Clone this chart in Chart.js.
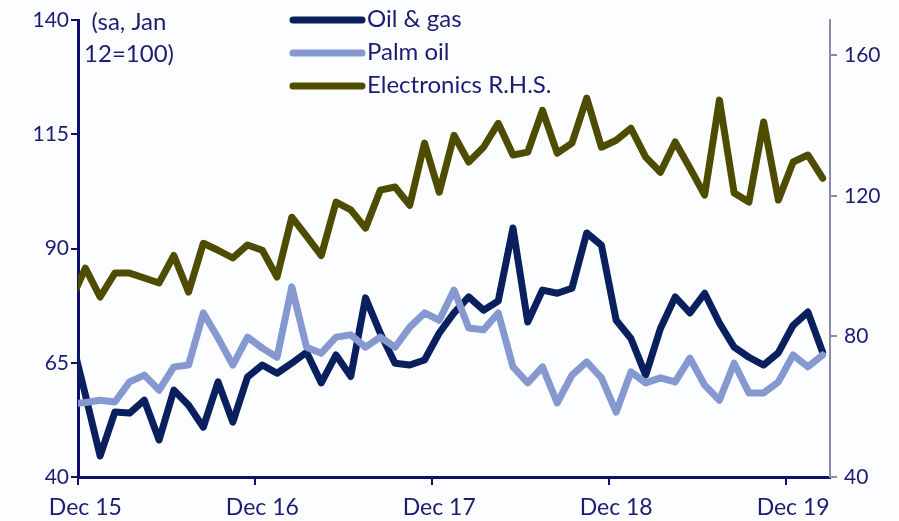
<!DOCTYPE html>
<html>
<head>
<meta charset="utf-8">
<script src="https://cdn.jsdelivr.net/npm/chart.js@4.4.1/dist/chart.umd.min.js"></script>
<style>
  html, body { margin: 0; padding: 0; background: #fcfdff; }
  #wrap { width: 899px; height: 521px; position: relative; }
</style>
</head>
<body>
<div id="wrap"><canvas id="chart" width="899" height="521"></canvas></div>
<script>
// Months (Nov 15 sits just left of the axis and is clipped, as in the original)
const months = [
    'Nov 15', 'Dec 15',
    'Jan 16', 'Feb 16', 'Mar 16', 'Apr 16', 'May 16', 'Jun 16', 'Jul 16', 'Aug 16', 'Sep 16', 'Oct 16', 'Nov 16', 'Dec 16',
    'Jan 17', 'Feb 17', 'Mar 17', 'Apr 17', 'May 17', 'Jun 17', 'Jul 17', 'Aug 17', 'Sep 17', 'Oct 17', 'Nov 17', 'Dec 17',
    'Jan 18', 'Feb 18', 'Mar 18', 'Apr 18', 'May 18', 'Jun 18', 'Jul 18', 'Aug 18', 'Sep 18', 'Oct 18', 'Nov 18', 'Dec 18',
    'Jan 19', 'Feb 19', 'Mar 19', 'Apr 19', 'May 19', 'Jun 19', 'Jul 19', 'Aug 19', 'Sep 19', 'Oct 19', 'Nov 19', 'Dec 19',
    'Jan 20', 'Feb 20'
];

// Left axis series (sa, Jan 12 = 100)
const oilGas = [
    71, 58, 44.6, 54.2, 54, 56.8, 48.1, 59, 55.7, 50.9, 60.8, 52, 61.9,
    64.5, 62.7, 64.9, 67.3, 60.6, 66.7, 62, 79.2, 71.5, 64.9, 64.5, 65.6,
    71.5, 75.9, 79.4, 76.5, 78.5, 94.5, 73.9, 80.9, 80.2, 81.3, 93.4, 90.7,
    74.3, 70.3, 62.3, 72.5, 79.4, 75.9, 80.2, 73.7, 68.4, 66.2, 64.5, 67.2,
    73.2, 76.1, 67.3
];
const palmOil = [
    56, 56.3, 56.8, 56.4, 60.8, 62.3, 59, 64.1, 64.5, 75.9, 70.4, 64.5, 70.6,
    68.2, 66.2, 81.6, 68.4, 67.1, 70.6, 71.1, 68.4, 70.6, 68.4, 72.8, 75.9,
    74.3, 80.9, 72.6, 72.2, 75.9, 64.1, 60.6, 64.1, 56.2, 62.3, 65.2, 61.7,
    54.2, 63, 60.6, 61.7, 60.8, 66, 60.1, 56.8, 64.9, 58.4, 58.4, 60.8,
    66.7, 64.1, 66.7
];

// Right axis series
const electronics = [
    90, 99.4, 91.2, 98, 98, 96.6, 95.2, 103, 92.6, 106.5, 104.5, 102.3, 106,
    104.5, 96.9, 113.9, 108.5, 103, 118.2, 116, 110.8, 121.6, 122.5, 117.3, 135,
    121, 137.2, 129.6, 133.8, 140.6, 131.6, 132.4, 144.3, 132.1, 135, 147.8, 133.8,
    135.8, 139.2, 131, 126.7, 135.3, 127.9, 120.2, 147.2, 120.8, 118.2, 141, 118.8,
    129.6, 131.6, 125
];

const leftTicks = [40, 65, 90, 115, 140];
const rightTicks = [40, 80, 120, 160];
const noteLines = ['(sa, Jan', '12=100)'];

const NAVY_TEXT = '#1c1c72';
const AXIS_NAVY = '#0e0e6e';
const AXIS_GREY = '#8c8ca6';
const TICK_FONT = { family: 'Lato', size: 21 };
const X_FONT = { family: 'Lato', size: 23 };

// Legend and note drawn in the plot area, like the original
const overlayPlugin = {
    id: 'overlay',
    afterDraw(chart) {
        const ctx = chart.ctx;
        ctx.save();
        ctx.font = '24px Lato';
        ctx.fillStyle = NAVY_TEXT;
        ctx.textBaseline = 'middle';
        ctx.textAlign = 'center';
        noteLines.forEach((line, i) => ctx.fillText(line, 129, 22 + i * 32));

        ctx.textAlign = 'left';
        chart.data.datasets.forEach((ds, i) => {
            const y = 20 + i * 33;
            ctx.strokeStyle = ds.borderColor;
            ctx.lineWidth = 7;
            ctx.lineCap = 'round';
            ctx.beginPath();
            ctx.moveTo(293, y);
            ctx.lineTo(362, y);
            ctx.stroke();
            ctx.fillText(ds.label, 367, y - 1);
        });
        ctx.restore();
    }
};

const ctx = document.getElementById('chart').getContext('2d');
new Chart(ctx, {
    type: 'line',
    data: {
        labels: months,
        datasets: [
            {
                label: 'Oil & gas',
                data: oilGas,
                borderColor: '#0a1f5e',
                yAxisID: 'y',
                order: 2
            },
            {
                label: 'Palm oil',
                data: palmOil,
                borderColor: '#8598cf',
                yAxisID: 'y',
                order: 1
            },
            {
                label: 'Electronics R.H.S.',
                data: electronics,
                borderColor: '#4d4c00',
                yAxisID: 'y1',
                order: 3
            }
        ]
    },
    options: {
        responsive: false,
        animation: false,
        layout: { padding: { top: 20, left: 0, right: 0, bottom: 0 } },
        elements: {
            line: { borderWidth: 7, tension: 0, borderJoinStyle: 'round', borderCapStyle: 'round' },
            point: { radius: 0 }
        },
        plugins: {
            legend: { display: false },
            tooltip: { enabled: false }
        },
        scales: {
            x: {
                type: 'category',
                min: 'Dec 15',
                offset: true,
                grid: {
                    offset: true,
                    drawOnChartArea: false,
                    tickLength: 8,
                    lineWidth: 2,
                    color: c => (c.tick && months[c.tick.value].startsWith('Dec')) ? AXIS_NAVY : 'rgba(0,0,0,0)'
                },
                border: { color: AXIS_NAVY, width: 3 },
                ticks: {
                    autoSkip: false,
                    maxRotation: 0,
                    padding: 9,
                    color: NAVY_TEXT,
                    font: X_FONT,
                    callback: value => months[value].startsWith('Dec') ? months[value] : ''
                },
                afterFit: s => { s.height = 44; }
            },
            y: {
                position: 'left',
                min: 40,
                max: 140,
                afterBuildTicks: s => { s.ticks = leftTicks.map(v => ({ value: v })); },
                grid: { drawOnChartArea: false, tickLength: 7, lineWidth: 2, color: AXIS_NAVY },
                border: { color: AXIS_NAVY, width: 3 },
                ticks: { padding: 2, color: NAVY_TEXT, font: TICK_FONT },
                afterFit: s => { s.width = 78; }
            },
            y1: {
                position: 'right',
                min: 40,
                max: 170,
                afterBuildTicks: s => { s.ticks = rightTicks.map(v => ({ value: v })); },
                grid: { drawOnChartArea: false, tickLength: 7, lineWidth: 2, color: AXIS_GREY },
                border: { color: AXIS_GREY, width: 2 },
                ticks: { padding: 7, color: NAVY_TEXT, font: TICK_FONT },
                afterFit: s => { s.width = 69; }
            }
        }
    },
    plugins: [overlayPlugin]
});
</script>
</body>
</html>
